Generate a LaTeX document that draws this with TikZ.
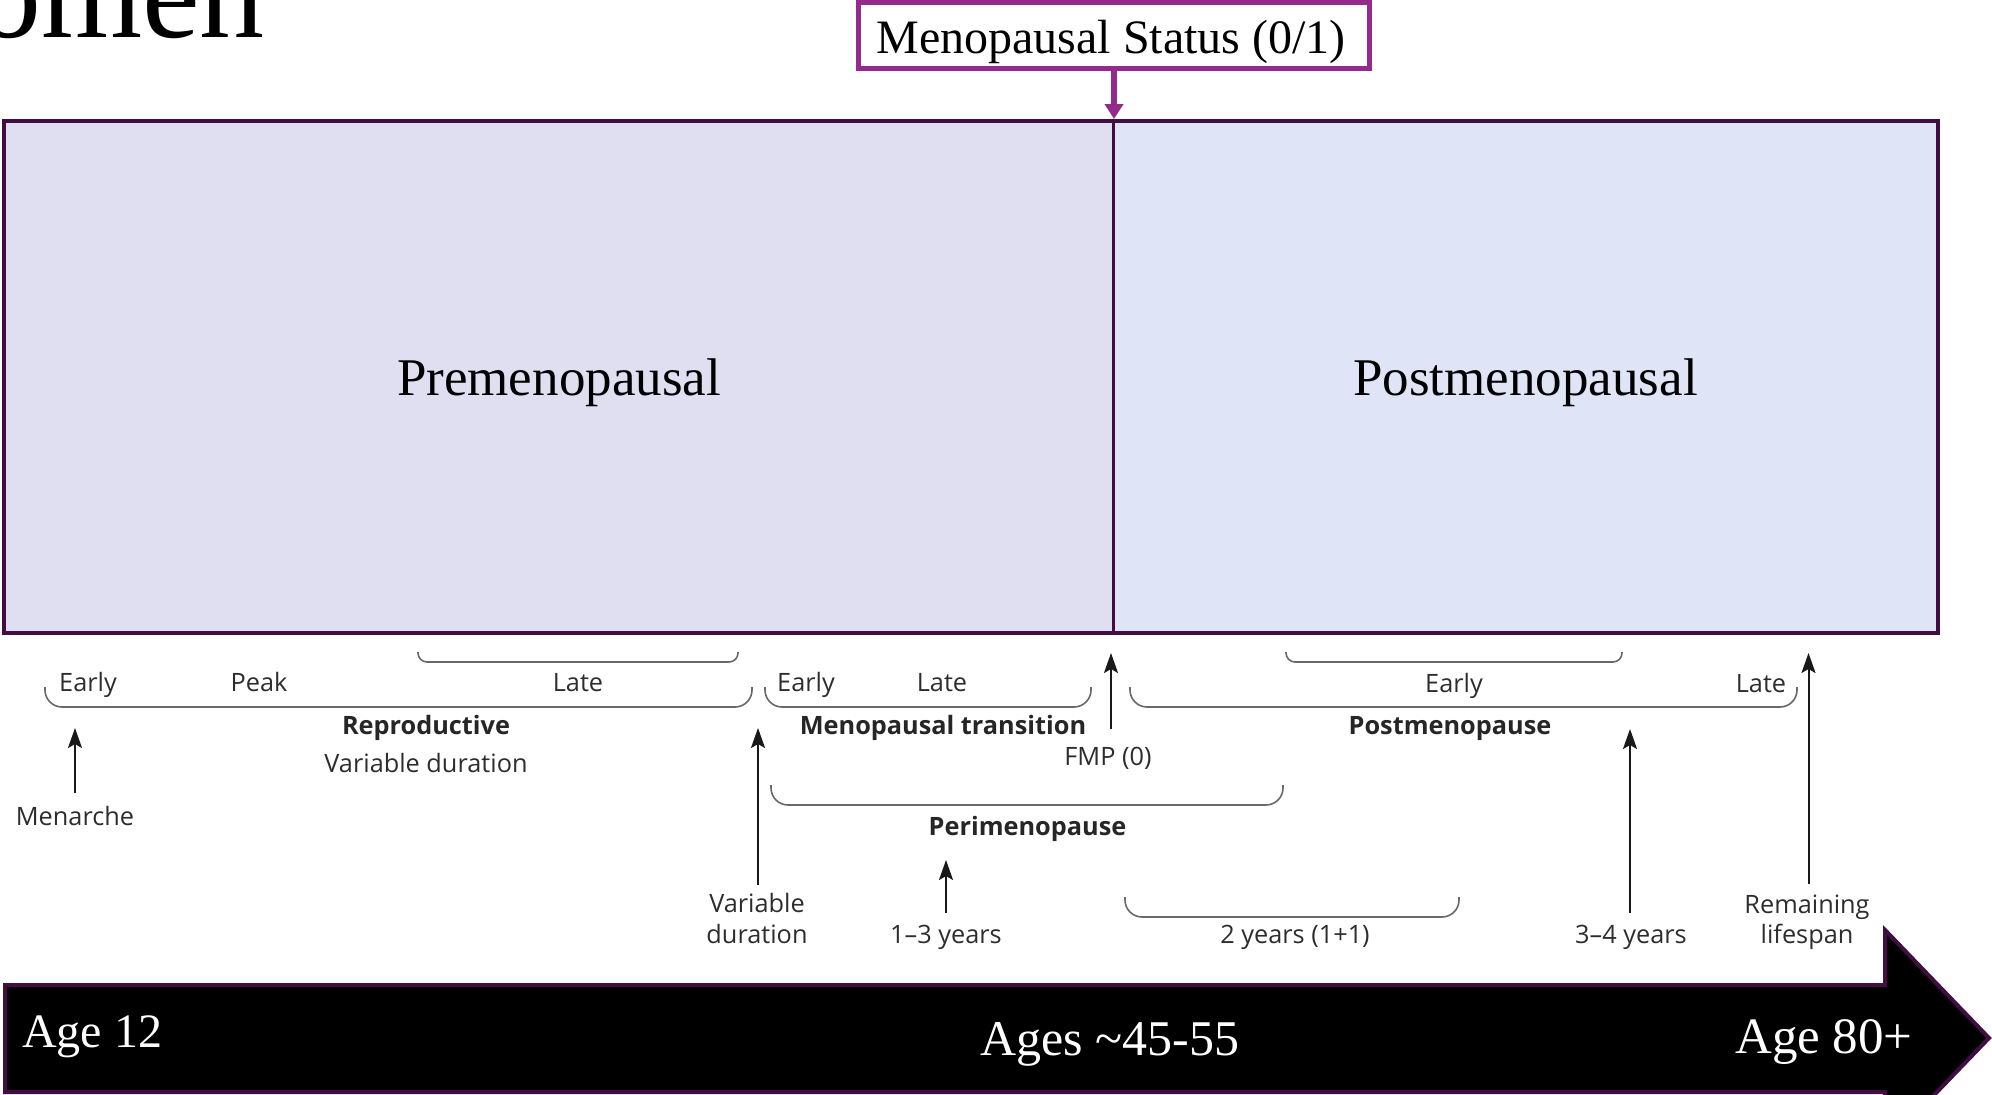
\documentclass[tikz,border=0pt]{standalone}
\usepackage{fontspec}
\setmainfont{Liberation Serif}
\newfontfamily\labfont{Open Sans}
\usetikzlibrary{arrows.meta}
\definecolor{rimpurple}{RGB}{66,14,66}
\definecolor{boxpurple}{RGB}{147,42,140}
\definecolor{prefill}{RGB}{224,222,241}
\definecolor{postfill}{RGB}{223,229,247}
\definecolor{labgray}{RGB}{45,45,45}
\definecolor{brkgray}{RGB}{105,105,105}
\tikzset{
  lbl/.style={font=\labfont\fontsize{25.3}{30}\selectfont, text=labgray, inner sep=0pt, anchor=base},
  blbl/.style={lbl, font=\labfont\bfseries\fontsize{25.3}{30}\selectfont, text=black!85},
  brkbig/.style={draw=brkgray, line width=1.6pt, rounded corners=17pt},
  brksmall/.style={draw=brkgray, line width=1.6pt, rounded corners=9pt},
  uparr/.style={draw=black!90, line width=2pt, -{Stealth[length=20pt,width=14pt,inset=4pt]}},
  bandtxt/.style={text=white, inner sep=0pt, anchor=base},
  bigtxt/.style={inner sep=0pt, anchor=base, font=\fontsize{53}{60}\selectfont}
}
\begin{document}
\begin{tikzpicture}[x=1pt,y=-1pt]
\useasboundingbox (0,0) rectangle (1992,1095);
\fill[white] (0,0) rectangle (1992,1095);

% partial slide title (cut off at the top edge, as in the reference)
\node[anchor=base east, inner sep=0pt, font=\fontsize{130}{140}\selectfont] (title) at (265,37) {Women};

% main phases
\node[fill=prefill, inner sep=0pt, minimum width=1109pt, minimum height=512pt] (pre) at (558.5,377) {};
\node[fill=postfill, inner sep=0pt, minimum width=825pt, minimum height=512pt] (post) at (1525.5,377) {};
\draw[rimpurple, line width=4pt] (pre.north west) rectangle (post.south east);
\draw[rimpurple, line width=3pt] (pre.north east) -- (pre.south east);
\node[bigtxt] (pretxt) at (559,395) {Premenopausal};
\node[bigtxt] (posttxt) at (1525.5,395) {Postmenopausal};

% menopausal status box
\node[draw=boxpurple, line width=5.5pt, fill=white, minimum width=511pt, minimum height=66pt,
      inner sep=0pt, text height=35pt, text depth=0pt, font=\fontsize{48}{54}\selectfont] (status) at (1114,35.5) {Menopausal Status (0/1)\hspace*{6pt}};
\coordinate (divtop) at (1114,119);
\draw[boxpurple, line width=5.5pt, -{Triangle[length=15pt,width=18pt]}] (status.south) -- (divtop);

% age band arrow
\draw[fill=black, draw=rimpurple, line width=4pt, line join=miter]
  (5,985) -- (1885,985) -- (1885,930) -- (1989,1038) -- (1885,1146) -- (1885,1092) -- (5,1092) -- cycle;
\node[bandtxt, anchor=base west, font=\fontsize{48}{54}\selectfont] (age12) at (22,1047) {Age 12};
\node[bandtxt, font=\fontsize{50}{56}\selectfont] (agemid) at (1110,1055) {Ages \textasciitilde45-55};
\node[bandtxt, font=\fontsize{51}{56}\selectfont] (age80) at (1824,1053) {Age 80+};

% brackets
\draw[brksmall] (418,652) -- (418,662) -- (738,662) -- (738,652);
\draw[brkbig] (45,687) -- (45,707) -- (752,707) -- (752,687);
\draw[brkbig] (765,687) -- (765,707) -- (1091,707) -- (1091,687);
\draw[brkbig] (1130,687) -- (1130,707) -- (1797,707) -- (1797,687);
\draw[brksmall] (1286,652) -- (1286,662) -- (1622,662) -- (1622,652);
\draw[brkbig] (771,785) -- (771,805) -- (1283,805) -- (1283,785);
\draw[brkbig] (1125,897) -- (1125,917) -- (1459,917) -- (1459,897);

% stage labels
\node[lbl] (early1) at (88,691) {Early};
\node[lbl] (peak) at (259,691) {Peak};
\node[lbl] (late1) at (578,691) {Late};
\node[lbl] (early2) at (806,691) {Early};
\node[lbl] (late2) at (942,691) {Late};
\node[lbl] (early3) at (1454,692) {Early};
\node[lbl] (late3) at (1761,692) {Late};

\node[blbl] (repro) at (426,734) {Reproductive};
\node[blbl] (mtrans) at (943,734) {Menopausal transition};
\node[blbl] (postm) at (1450,734) {Postmenopause};
\node[lbl] (vardur) at (426,772) {Variable duration};
\node[lbl] (fmp) at (1108,765) {FMP (0)};
\node[lbl] (menarche) at (75,825) {Menarche};
\node[blbl] (peri) at (1027.5,835) {Perimenopause};

\node[lbl] (var1) at (757,912) {Variable};
\node[lbl] (dur1) at (757,943) {duration};
\node[lbl] (y13) at (946,943) {1\textendash 3 years};
\node[lbl] (y2) at (1295,943) {2 years (1+1)};
\node[lbl] (y34) at (1631,943) {3\textendash 4 years};
\node[lbl] (rem) at (1807,913) {Remaining};
\node[lbl] (life) at (1807,943) {lifespan};

% arrows
\coordinate (menTip) at (75,728);
\coordinate (varTip) at (758,728);
\coordinate (fmpTip) at (1111,653);
\coordinate (y13Tip) at (946,860);
\coordinate (y34Tip) at (1630,729);
\coordinate (remTip) at (1808.5,653);
\draw[uparr] ([yshift=32pt]menarche.base) -- (menTip);
\draw[uparr] ([xshift=1pt,yshift=27pt]var1.base) -- (varTip);
\draw[uparr] ([xshift=3pt,yshift=36pt]fmp.base) -- (fmpTip);
\draw[uparr] ([yshift=30pt]y13.base) -- (y13Tip);
\draw[uparr] ([xshift=-1pt,yshift=30pt]y34.base) -- (y34Tip);
\draw[uparr] ([xshift=1.5pt,yshift=29pt]rem.base) -- (remTip);
\end{tikzpicture}
\end{document}
